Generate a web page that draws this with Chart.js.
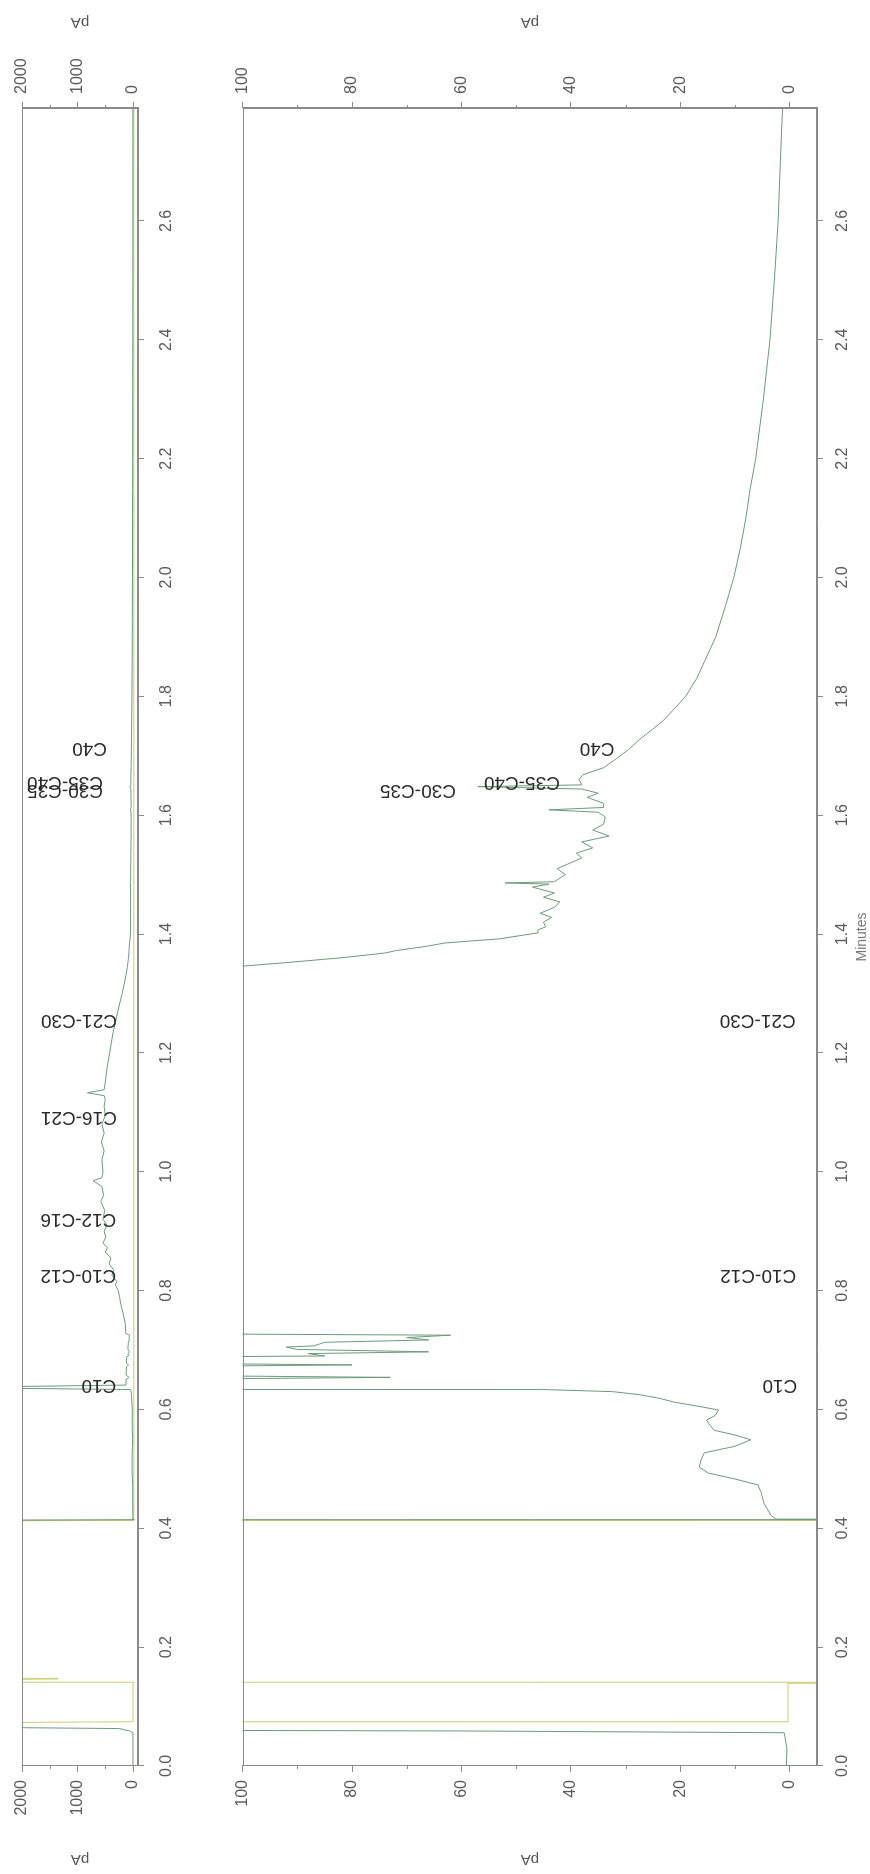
<!DOCTYPE html>
<html><head><meta charset="utf-8">
<script src="https://cdn.jsdelivr.net/npm/chart.js@4.4.0/dist/chart.umd.min.js"></script>
<style>
html,body{margin:0;padding:0;background:#fff;width:870px;height:1874px;overflow:hidden;}
#rot{position:absolute;left:0;top:1874px;width:1874px;height:870px;transform-origin:0 0;transform:rotate(-90deg);background:#fff;}
#cSmall{position:absolute;left:0;top:0;}
#cBig{position:absolute;left:0;top:225px;}
</style></head><body>
<div id="rot"><canvas id="cSmall" width="1874" height="225"></canvas><canvas id="cBig" width="1874" height="645"></canvas></div>
<script>
// ---- data (minutes, pA) ----
const greenTime = [0.000,0.030,0.056,0.059,0.061,0.063,0.065,0.4135,0.4145,0.4155,0.422,0.442,0.460,0.473,0.483,0.493,0.503,0.515,0.527,0.538,0.549,0.557,0.565,0.574,0.582,0.590,0.599,0.606,0.612,0.619,0.625,0.630,0.6335,0.636,0.638,0.641,0.650,0.654,0.658,0.672,0.675,0.678,0.688,0.690,0.694,0.697,0.701,0.705,0.707,0.713,0.717,0.721,0.725,0.728,0.745,0.760,0.775,0.790,0.800,0.810,0.815,0.826,0.835,0.845,0.855,0.865,0.872,0.880,0.890,0.900,0.910,0.920,0.935,0.950,0.960,0.975,0.985,0.990,1.000,1.020,1.035,1.050,1.065,1.080,1.095,1.110,1.122,1.128,1.133,1.138,1.150,1.166,1.185,1.200,1.217,1.234,1.250,1.267,1.285,1.300,1.315,1.330,1.340,1.346,1.352,1.360,1.366,1.368,1.372,1.380,1.385,1.392,1.402,1.407,1.412,1.420,1.428,1.435,1.445,1.454,1.462,1.469,1.479,1.484,1.486,1.488,1.500,1.510,1.520,1.528,1.536,1.545,1.555,1.565,1.575,1.585,1.597,1.605,1.609,1.613,1.620,1.630,1.637,1.644,1.648,1.651,1.660,1.668,1.680,1.693,1.710,1.727,1.745,1.760,1.780,1.800,1.830,1.860,1.900,1.950,2.000,2.050,2.100,2.150,2.200,2.300,2.400,2.500,2.600,2.700,2.790];
const greenPA = [0.6,0.5,1.0,60,160,240,2600,2600,-20,2.5,3.4,4.7,5.2,5.8,10,14.9,16.5,16.2,15.6,10,7.1,10,13.8,14.6,15.2,13.6,13.0,17,21,23.9,27.5,32.4,45,2600,2600,130,125,73,125,118,80,120,118,85,88,66,90,92,87,85,66,70,62,130,140,175,215,245,265,320,290,380,350,430,400,500,460,540,490,520,470,540,510,580,530,560,720,560,540,560,520,570,520,560,500,520,500,520,820,520,500,480,450,420,390,360,320,280,235,195,160,128,110,100,92,82,76,74,72,66,63,53,46,46,44.6,45,43.5,45.6,43,42,45,43,47,44,52,43,41,42.5,40,38,39,36,38,33,36,34,33.7,35,44,34,34,37,35,38,57,38,38.5,37.8,34,32,29.5,27.5,25,23,21,19,17,15.5,13.5,11.8,10.2,9,8,7.2,6.2,4.8,3.6,2.8,2.1,1.7,1.3];
const yellowTime = [0.000,0.073,0.0745,0.139,0.140,0.141,0.1455,0.1465,0.1475,0.4125,0.4135,0.416,2.790];
const yellowPA = [2600,2600,0.3,0.3,-20,2600,2600,1350,2600,2600,-15,-15,-15];

const peakNames = ['C10','C10-C12','C12-C16','C16-C21','C21-C30','C30-C35','C35-C40','C40'];
const peakTimes = [0.641,0.826,0.920,1.092,1.255,1.642,1.655,1.713];
const labelLevelBig = [-1.4,-1.2,null,null,-1.1,61,42,32];
const labelLevelSmall = [300,300,300,290,290,540,540,470];

const minuteMin = 0, minuteMax = 2.79, minuteStep = 0.2;
const smallRange = [-90, 2000];
const smallTicks = [0, 1000, 2000];
const smallMinorTicks = [500, 1500];
const bigRange = [-5, 100];
const bigTicks = [0, 20, 40, 60, 80, 100];
const bigMinorTicks = [10, 30, 50, 70, 90];

// ---- helpers ----
function zip(t, v){ return t.map((x,i)=>({x:x, y:v[i]})); }
Chart.defaults.font.family = "'Liberation Sans', Arial, sans-serif";
const GREEN = '#6d9a7c', YELLOW = '#cdcd78', AXIS = '#8a8a8a', TICKTXT = '#5a5a5a';

function makePanel(id, padTop, xAxisH, xPad, yRange, yTicks, yMinor, levels, showMinutes){
  const decor = {
    id:'decor',
    afterDatasetsDraw(chart){
      const ctx = chart.ctx, a = chart.chartArea, xs = chart.scales.x, ys = chart.scales.y;
      ctx.save();
      // frame
      ctx.strokeStyle = AXIS; ctx.lineWidth = 1;
      ctx.strokeRect(Math.round(a.left)+0.5, Math.round(a.top)+0.5, Math.round(a.right-a.left)-1, Math.round(a.bottom-a.top)-1);
      // minor ticks on both pA axes
      ctx.beginPath();
      yMinor.forEach(v=>{
        const py = Math.round(ys.getPixelForValue(v))+0.5;
        ctx.moveTo(a.left-3, py); ctx.lineTo(a.left, py);
        ctx.moveTo(a.right, py); ctx.lineTo(a.right+3, py);
      });
      ctx.stroke();
      // peak labels
      ctx.fillStyle = '#2a2a2a';
      ctx.font = "19px 'Liberation Sans', Arial, sans-serif";
      ctx.textAlign = 'left'; ctx.textBaseline = 'middle';
      peakNames.forEach((n,i)=>{
        if(levels[i]===null || levels[i]===undefined) return;
        const px = xs.getPixelForValue(peakTimes[i]);
        const py = ys.getPixelForValue(levels[i]);
        ctx.save(); ctx.translate(px, py); ctx.rotate(-Math.PI/2); ctx.fillText(n, 0, 0); ctx.restore();
      });
      // axis titles
      const cy = (a.top + a.bottom)/2;
      ctx.fillStyle = '#555';
      ctx.font = "15px 'Liberation Sans', Arial, sans-serif";
      ctx.textAlign = 'center'; ctx.textBaseline = 'middle';
      [15, 1852].forEach(xx=>{ ctx.save(); ctx.translate(xx, cy); ctx.rotate(-Math.PI/2); ctx.fillText('pA',0,0); ctx.restore(); });
      if(showMinutes){
        ctx.fillStyle = '#777';
        ctx.font = "14px 'Liberation Sans', Arial, sans-serif";
        ctx.fillText('Minutes', (a.left+a.right)/2, a.bottom + 45);
      }
      ctx.restore();
    }
  };
  const yAxis = (pos)=>({
    type:'linear', position:pos, min:yRange[0], max:yRange[1],
    afterBuildTicks(s){ s.ticks = yTicks.map(v=>({value:v})); },
    ticks:{padding:8, color:TICKTXT, font:{size:16}, callback:(v)=>String(v)},
    grid:{display:true, drawOnChartArea:false, drawTicks:true, tickLength:6, color:AXIS},
    border:{display:true, color:AXIS},
    afterFit(s){ s.width = 108; }
  });
  return new Chart(document.getElementById(id), {
    type:'line',
    data:{datasets:[
      {data:zip(yellowTime, yellowPA), borderColor:YELLOW, borderWidth:1, pointRadius:0, tension:0, fill:false, order:2},
      {data:zip(greenTime, greenPA), borderColor:GREEN, borderWidth:1, pointRadius:0, tension:0, fill:false, order:1}
    ]},
    options:{
      responsive:false, animation:false, devicePixelRatio:1,
      layout:{padding:{top:padTop, left:0, right:0, bottom:0}},
      plugins:{legend:{display:false}, tooltip:{enabled:false}},
      scales:{
        x:{type:'linear', position:'bottom', min:minuteMin, max:minuteMax,
           ticks:{stepSize:minuteStep, includeBounds:false, maxRotation:0, autoSkip:false, padding:xPad, color:TICKTXT, font:{size:16},
                  callback:(v)=>Number(v).toFixed(1)},
           grid:{display:true, drawOnChartArea:false, drawTicks:true, tickLength:6, color:AXIS},
           border:{display:true, color:AXIS},
           afterFit(s){ s.height = xAxisH; }},
        y: yAxis('left'),
        y2: yAxis('right')
      }
    },
    plugins:[decor]
  });
}

makePanel('cSmall', 22, 87, 13, smallRange, smallTicks, smallMinorTicks, labelLevelSmall, false);
makePanel('cBig', 10, 53, 10, bigRange, bigTicks, bigMinorTicks, labelLevelBig, true);
</script></body></html>
